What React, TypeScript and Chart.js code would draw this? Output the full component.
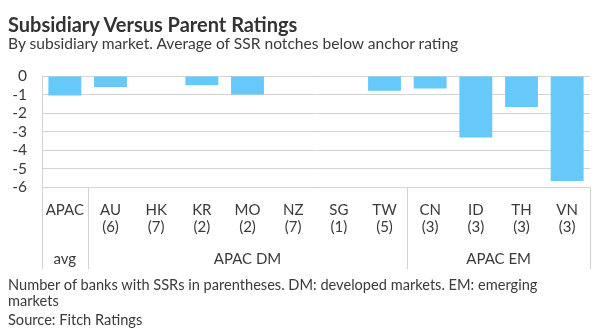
import React, { useEffect, useRef } from "react";
import { Chart, registerables } from "chart.js";

Chart.register(...registerables);

const markets = ["APAC", "AU", "HK", "KR", "MO", "NZ", "SG", "TW", "CN", "ID", "TH", "VN"];
const bankCounts = ["", "(6)", "(7)", "(2)", "(2)", "(7)", "(1)", "(5)", "(3)", "(3)", "(3)", "(3)"];
const notchesBelow = [-1.05, -0.6, 0, -0.5, -1.0, 0, 0, -0.8, -0.67, -3.33, -1.67, -5.67];
const groupLabels = ["avg", "APAC DM", "APAC EM"];
const groupStart = [0, 1, 8];
const groupEnd = [0, 7, 11];
const yMin = -6;
const yMax = 0;

const FONT = "Lato, 'Noto Sans', sans-serif";
const TEXT = "#3a3a3a";
const GRID = "#d3d3d3";
const BAR = "#67C9FA";

const groupPlugin = {
  id: "groupLabels",
  afterDraw(chart: any) {
    const { ctx, chartArea } = chart;
    const x = chart.scales.x;
    const half = (x.getPixelForValue(1) - x.getPixelForValue(0)) / 2;
    const top = chartArea.bottom;
    const bottom = x.bottom;
    ctx.save();
    ctx.strokeStyle = GRID;
    ctx.lineWidth = 1;
    const edges = [0, 1, 8, 12];
    edges.forEach((i) => {
      const px = Math.round(x.getPixelForValue(i) - half) + 0.5;
      ctx.beginPath();
      ctx.moveTo(px, top);
      ctx.lineTo(px, bottom);
      ctx.stroke();
    });
    ctx.fillStyle = TEXT;
    ctx.font = `15px ${FONT}`;
    ctx.textAlign = "center";
    ctx.textBaseline = "alphabetic";
    groupLabels.forEach((g, k) => {
      const cx = (x.getPixelForValue(groupStart[k]) + x.getPixelForValue(groupEnd[k])) / 2;
      ctx.fillText(g, cx, bottom - 5);
    });
    ctx.restore();
  },
};

export default function App() {
  const ref = useRef<HTMLCanvasElement | null>(null);
  useEffect(() => {
    document.body.style.margin = "0";
    const labels = markets.map((m, i) => (bankCounts[i] ? [m, bankCounts[i]] : m));
    const chart = new Chart(ref.current as HTMLCanvasElement, {
      type: "bar",
      data: {
        labels,
        datasets: [
          {
            data: notchesBelow,
            backgroundColor: BAR,
            borderWidth: 0,
            categoryPercentage: 0.8,
            barPercentage: 0.9,
          },
        ],
      },
      plugins: [groupPlugin],
      options: {
        responsive: false,
        animation: false,
        layout: { padding: { top: 76, bottom: 62, left: 0, right: 10 } },
        plugins: { legend: { display: false }, tooltip: { enabled: false }, title: { display: false } },
        scales: {
          x: {
            grid: { display: false, drawTicks: false },
            border: { display: false },
            ticks: {
              color: TEXT,
              font: { family: FONT, size: 15, lineHeight: 1.12 },
              padding: 15,
              maxRotation: 0,
              autoSkip: false,
            },
            afterFit: (s: any) => {
              s.height = 82;
            },
          },
          y: {
            min: yMin,
            max: yMax,
            grid: { color: GRID, drawTicks: false, lineWidth: 1 },
            border: { display: true, color: GRID },
            ticks: {
              stepSize: 1,
              autoSkip: false,
              color: TEXT,
              font: { family: FONT, size: 15.5 },
              padding: 15,
            },
            afterFit: (s: any) => {
              s.width = 42;
            },
          },
        },
      },
    });
    return () => chart.destroy();
  }, []);

  const txt: React.CSSProperties = {
    position: "absolute",
    left: 8,
    margin: 0,
    fontFamily: FONT,
    color: TEXT,
    whiteSpace: "nowrap",
  };

  return (
    <div style={{ position: "relative", width: 600, height: 331, background: "#fff", overflow: "hidden" }}>
      <canvas ref={ref} width={600} height={331} style={{ position: "absolute", left: 0, top: 0 }} />
      <div style={{ ...txt, top: 12, fontSize: 20, lineHeight: "24px", fontWeight: 700, color: "#333" }}>
        Subsidiary Versus Parent Ratings
      </div>
      <div style={{ ...txt, top: 34, fontSize: 15.6, lineHeight: "18.72px" }}>
        By subsidiary market. Average of SSR notches below anchor rating
      </div>
      <div style={{ ...txt, top: 276, fontSize: 14.6, lineHeight: "17.52px" }}>
        Number of banks with SSRs in parentheses. DM: developed markets. EM: emerging
      </div>
      <div style={{ ...txt, top: 292, fontSize: 14.6, lineHeight: "17.52px" }}>markets</div>
      <div style={{ ...txt, top: 310.5, fontSize: 14.6, lineHeight: "17.52px" }}>Source: Fitch Ratings</div>
    </div>
  );
}
